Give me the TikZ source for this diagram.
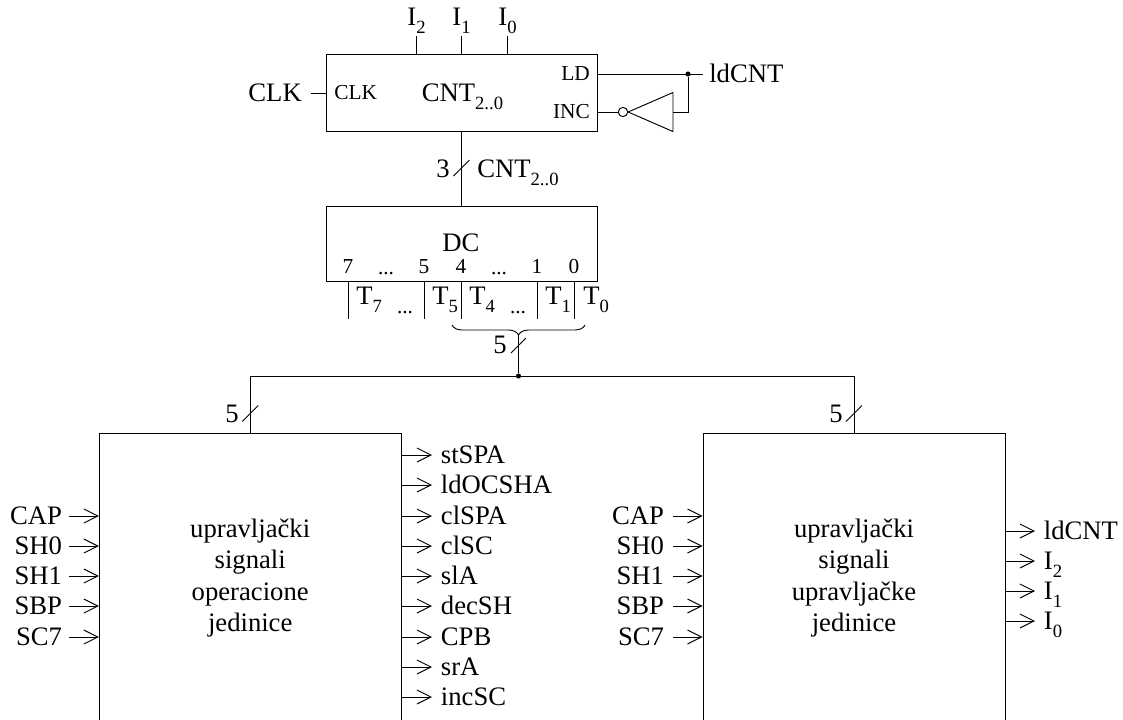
\documentclass[tikz,border=0pt]{standalone}
\usepackage{fontspec}
\setmainfont{Liberation Serif}
\usetikzlibrary{arrows.meta,calc,decorations.pathreplacing}
\newcommand{\idx}[1]{\raisebox{-6pt}{\fontsize{14}{14}\selectfont #1}}
\tikzset{
  >={Straight Barb[length=10.5pt,width=10.5pt]},
  bx/.style={draw,line width=0.7pt,inner sep=0pt},
  wire/.style={draw,line width=0.7pt},
  sig/.style={->,line width=0.7pt},
  lab/.style={font=\fontsize{20}{24}\selectfont,inner xsep=6.5pt,inner ysep=0pt,
              text height=12pt,text depth=0pt},
  mal/.style={font=\fontsize{16}{19}\selectfont,inner xsep=0pt,inner ysep=0pt,
              text height=9.5pt,text depth=0pt},
  txt/.style={font=\fontsize{20}{23.6}\selectfont,align=center,inner sep=0pt},
  jct/.style={circle,fill=black,inner sep=0pt,minimum size=3.8pt},
  neg/.style={circle,draw,fill=white,line width=0.7pt,inner sep=0pt,minimum size=7pt},
}
\begin{document}
\begin{tikzpicture}[x=0.75pt,y=-0.75pt]
  \clip (0,0) rectangle (1123,719);
  % brojac
  \node[bx,minimum width=203.25pt,minimum height=57.75pt] (cnt) at (461.5,92.5) {};
  \node[lab,inner xsep=0pt] (i2) at (416.5,17) {I\idx{2}};
  \node[lab,inner xsep=0pt] (i1) at (461.5,17) {I\idx{1}};
  \node[lab,inner xsep=0pt] (i0) at (507.5,17) {I\idx{0}};
  \foreach \n in {i2,i1,i0}
    \draw[wire] (\n) ++(0,19) -- (\n |- cnt.north);
  \node[lab,anchor=east,inner xsep=6.5pt] (clk) at (310.7,93) {CLK};
  \node[mal,anchor=west] (clkin) at (334,93) {CLK};
  \node[lab,inner xsep=0pt,anchor=west] (cntname) at (421.5,93) {CNT\idx{2..0}};
  \node[mal,anchor=east] (ldin) at (590,74) {LD};
  \node[mal,anchor=east] (incin) at (590,112) {INC};
  \node[lab,anchor=west,inner xsep=4.5pt] (ld) at (703,74) {ldCNT};
  \node[jct] (ldj) at (688,74) {};
  \node[neg] (nb) at (623,112) {};
  \coordinate (nt) at (673,112);
  \draw[wire] (clk.east) -- (clk.east -| cnt.west);
  \draw[wire] (ldin.east -| cnt.east) -- (ld.west);
  \draw[wire] (incin.east -| cnt.east) -- (nb.west);
  \draw[line width=0.7pt] (nb.east) -- (673,92.5) -- (673,131.5) -- cycle;
  \draw[wire] (nt) -| (ldj);
  % dekoder
  \node[bx,minimum width=203.25pt,minimum height=56.25pt] (dc) at (461.5,243.5) {};
  \draw[wire] (cnt.south) -- (dc.north);
  \coordinate (s3) at (461.5,168);
  \draw[wire] (s3) ++(-8,8) -- ++(16,-16);
  \node[lab,inner xsep=0pt] (three) at (443,169) {3};
  \node[lab,inner xsep=0pt,anchor=west] (cntbus) at (477,169) {CNT\idx{2..0}};
  \node[lab,inner xsep=0pt] (dcname) at (461,243) {DC};
  \foreach \d/\xx in {7/348,5/424,4/461,1/537,0/574} {
    \node[mal] (d\d) at (\xx,267) {\d};
    \draw[wire] (d\d |- dc.south) -- ++(0,38);
  }
  \node[mal,anchor=base] (dd1) at (386,274) {...};
  \node[mal,anchor=base] (dd2) at (499,274) {...};
  \foreach \t/\xx in {7/356,5/432,4/469,1/545,0/583}
    \node[lab,inner xsep=0pt,anchor=west] (t\t) at (\xx,296.5) {T\idx{\t}};
  \node[mal,anchor=base] (td1) at (405,313) {...};
  \node[mal,anchor=base] (td2) at (518,313) {...};
  \draw[line width=0.7pt,decorate,decoration={brace,amplitude=7.5pt}] (585,325) -- (452,325);
  \coordinate (br) at (518.5,335);
  \node[jct] (tj) at (518.5,376) {};
  \draw[wire] (br) -- (tj);
  \draw[wire] (br) ++(-7.5,18) -- ++(15,-15);
  \node[lab,inner xsep=0pt] (five) at (500,345) {5};
  % blokovi
  \node[bx,minimum width=226.3pt,minimum height=250.5pt] (opr) at (250.2,600) {};
  \node[bx,minimum width=226.5pt,minimum height=250.5pt] (upr) at (854,600) {};
  \draw[wire] (opr.north) |- (tj);
  \draw[wire] (tj) -| (upr.north);
  \draw[wire] (opr.north) ++(-8,-11) -- ++(16,-16);
  \draw[wire] (upr.north) ++(-8,-11) -- ++(16,-16);
  \node[lab,inner xsep=0pt] (fl) at (232,414) {5};
  \node[lab,inner xsep=0pt] (fr) at (836,414) {5};
  \node[txt] (oprname) at (250.2,578) {upravljački\\signali\\operacione\\jedinice};
  \node[txt] (uprname) at (854,578) {upravljački\\signali\\upravljačke\\jedinice};
  \foreach \n/\yy in {CAP/516,SH0/546,SH1/576,SBP/606,SC7/637} {
    \node[lab,anchor=east,inner xsep=5pt] (l\n) at (69,\yy) {\n};
    \draw[sig] (l\n.east) -- (l\n.east -| opr.west);
    \node[lab,anchor=east] (m\n) at (673,\yy) {\n};
    \draw[sig] (m\n.east) -- (m\n.east -| upr.west);
  }
  \foreach \n/\yy in {stSPA/455,ldOCSHA/485,clSPA/516,clSC/546,slA/576,decSH/606,CPB/637,srA/667,incSC/697} {
    \node[lab,anchor=west] (o\n) at (432,\yy) {\n};
    \draw[sig] (o\n.west -| opr.east) -- (o\n.west);
  }
  \foreach \n/\t/\yy in {a/ldCNT/531,b/I\idx{2}/561,c/I\idx{1}/591,d/I\idx{0}/621} {
    \node[lab,anchor=west] (u\n) at (1035,\yy) {\t};
    \draw[sig] (u\n.west -| upr.east) -- (u\n.west);
  }
\end{tikzpicture}
\end{document}
